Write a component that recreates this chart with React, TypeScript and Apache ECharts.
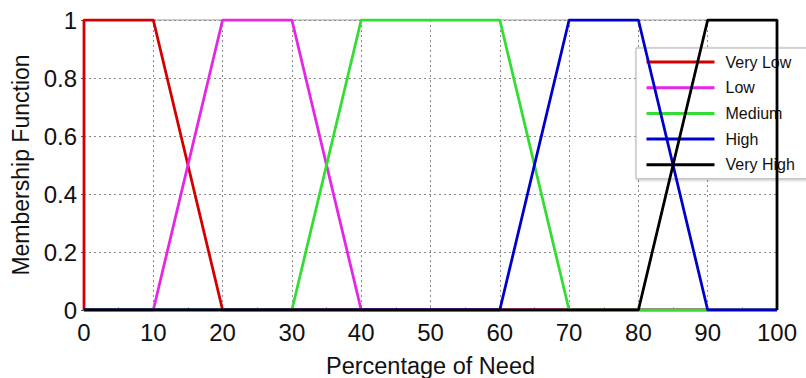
import React, { useEffect, useRef } from "react";
import * as echarts from "echarts";

const seriesNames = ["Very Low", "Low", "Medium", "High", "Very High"];
const seriesColors = ["#d40000", "#e626e6", "#33dd33", "#0000cc", "#000000"];
const veryLow: number[][] = [[0, 0], [0, 1], [10, 1], [20, 0], [100, 0]];
const low: number[][] = [[0, 0], [10, 0], [20, 1], [30, 1], [40, 0], [100, 0]];
const medium: number[][] = [[0, 0], [30, 0], [40, 1], [60, 1], [70, 0], [100, 0]];
const high: number[][] = [[0, 0], [60, 0], [70, 1], [80, 1], [90, 0], [100, 0]];
const veryHigh: number[][] = [[0, 0], [80, 0], [90, 1], [100, 1], [100, 0]];
const allData = [veryLow, low, medium, high, veryHigh];

export default function App() {
  const ref = useRef<HTMLDivElement>(null);
  useEffect(() => {
    if (!ref.current) return;
    const chart = echarts.init(ref.current, undefined, { renderer: "svg" });
    const font = "Liberation Sans, Arial, sans-serif";
    chart.setOption({
      animation: false,
      backgroundColor: "#ffffff",
      grid: {
        left: 84,
        right: 29,
        top: 20,
        bottom: 68,
        show: true,
        borderColor: "#9a9a9a",
        borderWidth: 1,
        outerBoundsMode: "none",
        containLabel: false,
      },
      legend: {
        orient: "vertical",
        left: 636,
        top: 48,
        padding: [6, 20, 6, 9],
        itemWidth: 68,
        itemHeight: 14,
        itemGap: 9.7,
        backgroundColor: "#ffffff",
        borderColor: "#b0b0b0",
        borderWidth: 1,
        shadowColor: "rgba(0,0,0,0.25)",
        shadowBlur: 3,
        shadowOffsetX: 1,
        shadowOffsetY: 1,
        itemStyle: { color: "transparent", borderWidth: 0, opacity: 0 },
        lineStyle: { width: 3 },
        textStyle: { fontFamily: font, fontSize: 16, color: "#111", padding: [0, 0, 0, 6] },
        data: seriesNames,
      },
      xAxis: {
        type: "value",
        min: 0,
        max: 100,
        interval: 10,
        name: "Percentage of Need",
        nameLocation: "middle",
        nameGap: 44,
        nameTextStyle: { fontFamily: font, fontSize: 23.5, color: "#111" },
        axisLine: { show: true, lineStyle: { color: "#9a9a9a" } },
        axisTick: { show: true, inside: true, length: 4, lineStyle: { color: "#999" } },
        minorTick: { show: true, splitNumber: 2, length: 3, lineStyle: { color: "#bbb" } },
        axisLabel: { fontFamily: font, fontSize: 24, color: "#111", margin: 10 },
        splitLine: { show: true, lineStyle: { color: "#8a8a8a", type: [2, 3], width: 1 } },
      },
      yAxis: {
        type: "value",
        min: 0,
        max: 1,
        interval: 0.2,
        name: "Membership Function",
        nameLocation: "middle",
        nameGap: 46,
        nameTextStyle: { fontFamily: font, fontSize: 23, color: "#111" },
        axisLine: { show: true, lineStyle: { color: "#9a9a9a" } },
        axisTick: { show: true, inside: false, length: 3, lineStyle: { color: "#555" } },
        axisLabel: { fontFamily: font, fontSize: 24, color: "#111", margin: 7, formatter: (v: number) => String(Math.round(v * 10) / 10) },
        splitLine: { show: true, lineStyle: { color: "#8a8a8a", type: [2, 3], width: 1 } },
      },
      series: allData.map((d, i) => ({
        name: seriesNames[i],
        type: "line",
        data: d,
        symbol: "none",
        color: seriesColors[i],
        lineStyle: { color: seriesColors[i], width: 2.8 },
        z: 2 + i,
      })),
    });
    return () => chart.dispose();
  }, []);
  return <div ref={ref} style={{ width: 806, height: 378, position: "absolute", left: 0, top: 0 }} />;
}
